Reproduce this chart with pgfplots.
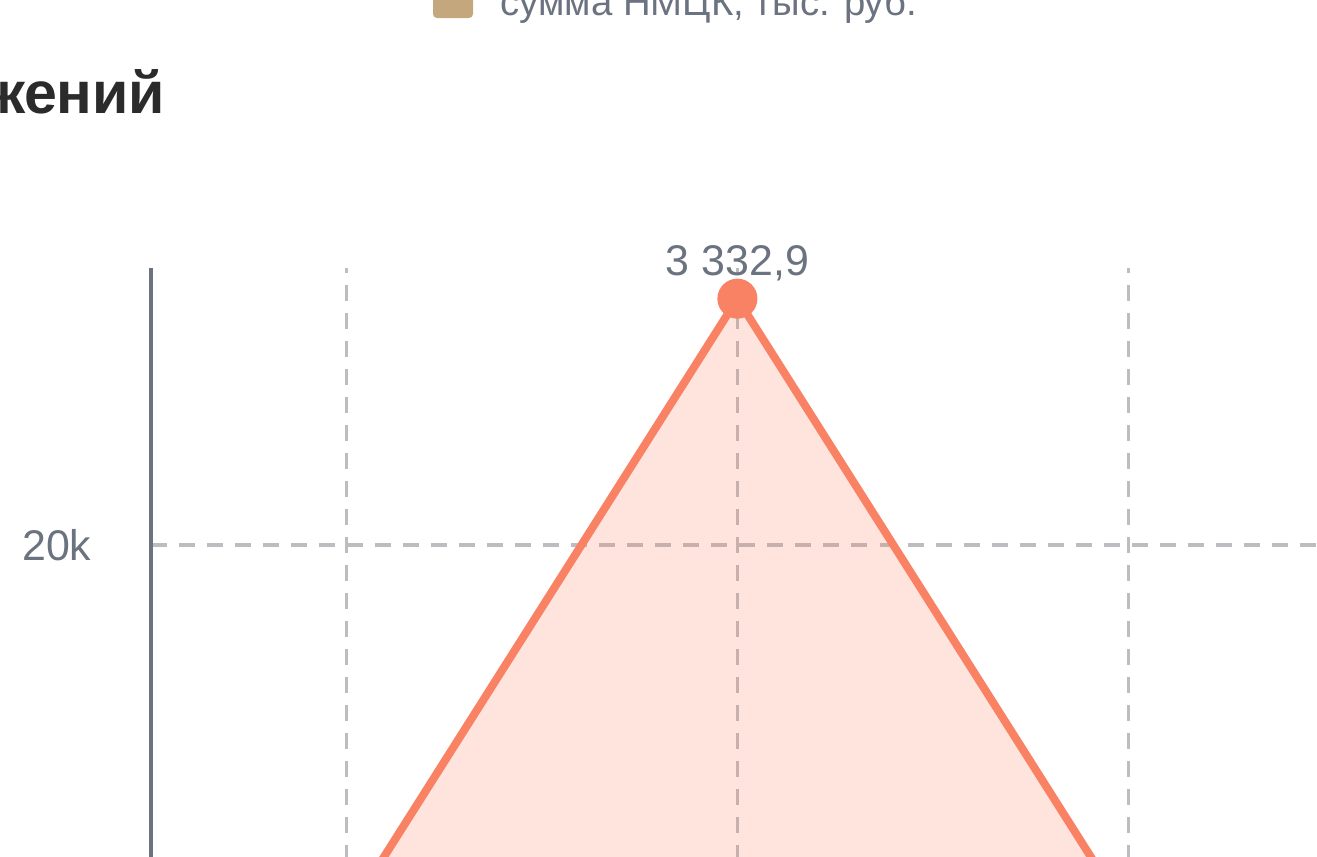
\documentclass[border=0pt]{standalone}
\usepackage{pgfplots}
\pgfplotsset{compat=1.18}
\usepackage{fontspec}
\setmainfont{Liberation Sans}
\definecolor{coral}{HTML}{FA8264}
\definecolor{gridgray}{HTML}{BBBDC1}
\definecolor{axisgray}{HTML}{6B7280}
\definecolor{labelgray}{HTML}{6B7280}
\definecolor{legtan}{HTML}{C5A77D}
\definecolor{titledark}{HTML}{2B2B2B}

\begin{document}
\begin{tikzpicture}[x=0.01cm,y=0.01cm]
\useasboundingbox (0,0) rectangle (1317,856);
\clip (0,0) rectangle (1317,856);
% legend (cut by the top edge)
\fill[legtan, rounded corners=0.04cm] (433,838) rectangle (473,890);
\node[anchor=base west, inner sep=0, text=labelgray,
      font=\fontsize{10.9}{13}\selectfont] at (500,841) {сумма НМЦК, тыс. руб.};
% title (cut by the left edge)
\node[anchor=base east, inner sep=0, text=titledark,
      font=\bfseries\fontsize{16.8}{20}\selectfont] at (166,743) {жений};
\begin{axis}[
  at={(1.51cm,-0.89cm)}, anchor=south west,
  scale only axis, width=11.72cm, height=6.77cm,
  xmin=-0.5, xmax=2.5, ymin=0, ymax=33850,
  xtick={0,1,2}, xticklabels={},
  ytick={0,20000,40000}, yticklabels={0,20k,40k},
  scaled y ticks=false,
  axis lines*=left, major tick length=0,
  axis line style={axisgray, line width=0.04cm},
  grid=major,
  major grid style={gridgray, line width=0.035cm, dash pattern=on 0.16cm off 0.12cm},
  yticklabel style={text=labelgray, font=\fontsize{12.2}{15}\selectfont,
                    anchor=east, inner sep=0, xshift=-0.59cm},
  clip=false,
]
\addplot[draw=none, fill=coral, fill opacity=0.22] coordinates {
  (0,1450) (1,32300) (2,1450)
} \closedcycle;
\addplot[coral, line width=0.08cm, mark=*, mark size=0.16cm,
         point meta=explicit symbolic, nodes near coords,
         every node near coord/.append style={text=labelgray, anchor=base,
           inner sep=0, yshift=0.23cm, font=\fontsize{12.2}{15}\selectfont}]
  coordinates {
  (0,1450) [{}]
  (1,32300) [{3 332,9}]
  (2,1450) [{}]
};
\end{axis}
\end{tikzpicture}
\end{document}
